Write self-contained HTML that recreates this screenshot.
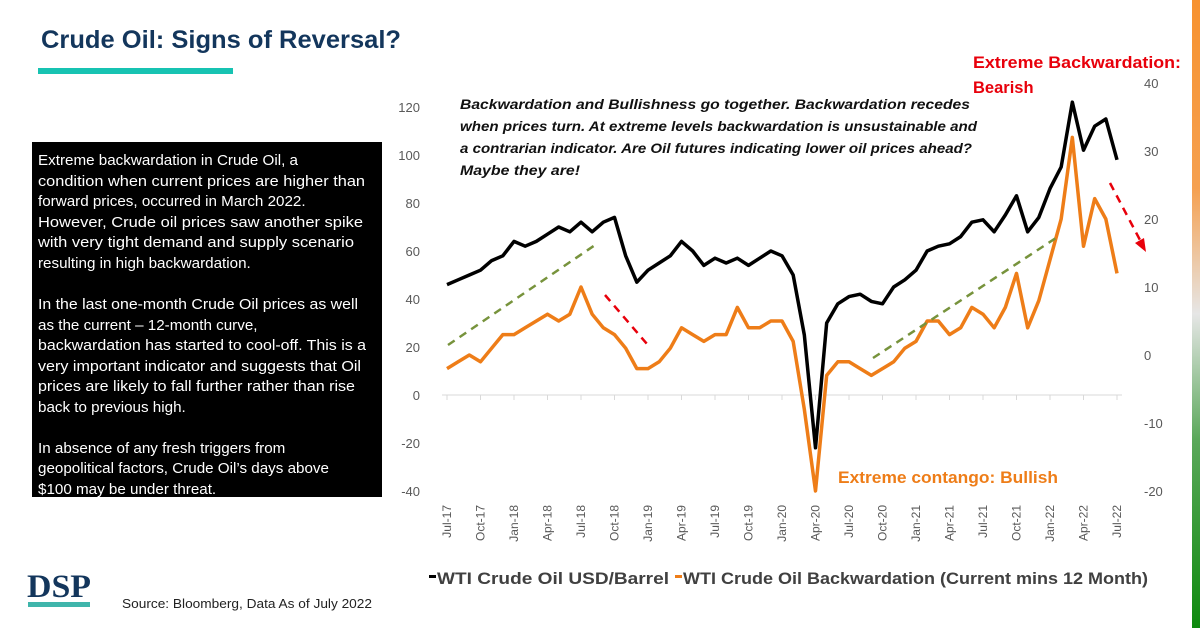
<!DOCTYPE html>
<html><head><meta charset="utf-8"><style>
body{margin:0;background:#fff;}
svg{display:block;font-family:"Liberation Sans",sans-serif;}
</style></head><body>
<svg id="root" width="1200" height="628" viewBox="0 0 1200 628" xmlns="http://www.w3.org/2000/svg">
<defs>
<linearGradient id="flag" x1="0" y1="0" x2="0" y2="1">
<stop offset="0" stop-color="#f7922f"/><stop offset="0.3" stop-color="#f5a050"/><stop offset="0.5" stop-color="#e6e6e6"/><stop offset="0.7" stop-color="#5aa85a"/><stop offset="1" stop-color="#0e8a0e"/>
</linearGradient>
</defs>
<rect x="1192" y="0" width="8" height="628" fill="url(#flag)"/>
<text x="41" y="48" font-size="25" font-weight="bold" fill="#13365c" textLength="360" lengthAdjust="spacingAndGlyphs">Crude Oil: Signs of Reversal?</text>
<rect x="38" y="68" width="195" height="6" fill="#17c3b2"/>

<g>
<rect x="32" y="142" width="350" height="355" fill="#000"/>
<g fill="#fff" font-size="15.2">
<text x="38" y="165">Extreme backwardation in Crude Oil, a</text>
<text x="38" y="186" textLength="327" lengthAdjust="spacingAndGlyphs">condition when current prices are higher than</text>
<text x="38" y="206">forward prices, occurred in March 2022.</text>
<text x="38" y="227" textLength="325" lengthAdjust="spacingAndGlyphs">However, Crude oil prices saw another spike</text>
<text x="38" y="247" textLength="316" lengthAdjust="spacingAndGlyphs">with very tight demand and supply scenario</text>
<text x="38" y="268">resulting in high backwardation.</text>
<text x="38" y="309" textLength="320" lengthAdjust="spacingAndGlyphs">In the last one-month Crude Oil prices as well</text>
<text x="38" y="330">as the current – 12-month curve,</text>
<text x="38" y="350" textLength="328" lengthAdjust="spacingAndGlyphs">backwardation has started to cool-off.  This is a</text>
<text x="38" y="371" textLength="323" lengthAdjust="spacingAndGlyphs">very important indicator and suggests that Oil</text>
<text x="38" y="391" textLength="317" lengthAdjust="spacingAndGlyphs">prices are likely to fall further rather than rise</text>
<text x="38" y="412">back to previous high.</text>
<text x="38" y="453">In absence of any fresh triggers from</text>
<text x="38" y="473">geopolitical factors, Crude Oil’s days above</text>
<text x="38" y="494">$100 may be under threat.</text>
</g></g>

<g id="chart"></g>

<g font-style="italic" font-weight="bold" font-size="14" fill="#111">
<text x="460" y="109" textLength="510" lengthAdjust="spacingAndGlyphs">Backwardation and Bullishness go together. Backwardation recedes</text>
<text x="460" y="131" textLength="517" lengthAdjust="spacingAndGlyphs">when prices turn. At extreme levels backwardation is unsustainable and</text>
<text x="460" y="153" textLength="512" lengthAdjust="spacingAndGlyphs">a contrarian indicator. Are Oil futures indicating lower oil prices ahead?</text>
<text x="460" y="175" textLength="120" lengthAdjust="spacingAndGlyphs">Maybe they are!</text>
</g>
<g font-weight="bold" font-size="16.5" fill="#e8000b">
<text x="973" y="68" textLength="208" lengthAdjust="spacingAndGlyphs">Extreme Backwardation:</text>
<text x="973" y="93">Bearish</text>
</g>
<text x="838" y="483" font-weight="bold" font-size="17" fill="#ee7d18" textLength="220" lengthAdjust="spacingAndGlyphs">Extreme contango: Bullish</text>

<g stroke-dasharray="8,6" stroke-width="2.5" fill="none">
<line x1="448" y1="345" x2="598" y2="243" stroke="#77933c"/>
<line x1="873" y1="358" x2="1059" y2="236" stroke="#77933c"/>
<line x1="605" y1="295" x2="647" y2="344" stroke="#e8000b"/>
<line x1="1110" y1="183" x2="1140" y2="240" stroke="#e8000b"/>
</g>
<polygon points="1146,252 1135,243 1144,238" fill="#e8000b"/>

<g>
<rect x="429" y="575" width="7" height="3" fill="#000"/>
<text x="437" y="584" font-size="17" font-weight="bold" fill="#404040" textLength="232" lengthAdjust="spacingAndGlyphs">WTI Crude Oil USD/Barrel</text>
<rect x="675" y="575" width="7" height="3" fill="#ee7d18"/>
<text x="683" y="584" font-size="17" font-weight="bold" fill="#404040" textLength="465" lengthAdjust="spacingAndGlyphs">WTI Crude Oil Backwardation (Current mins 12 Month)</text>
</g>

<g>
<text x="27" y="597" font-family="'Liberation Serif',serif" font-weight="bold" font-size="33" fill="#13365c" textLength="64" lengthAdjust="spacingAndGlyphs">DSP</text>
<rect x="28" y="602" width="62" height="5" fill="#3fb5ab"/>
</g>
<text x="122" y="608" font-size="13" fill="#222" textLength="250" lengthAdjust="spacingAndGlyphs">Source: Bloomberg, Data As of July 2022</text>
</svg>
<script>
const months = ["Jul-17","Aug-17","Sep-17","Oct-17","Nov-17","Dec-17","Jan-18","Feb-18","Mar-18","Apr-18","May-18","Jun-18","Jul-18","Aug-18","Sep-18","Oct-18","Nov-18","Dec-18","Jan-19","Feb-19","Mar-19","Apr-19","May-19","Jun-19","Jul-19","Aug-19","Sep-19","Oct-19","Nov-19","Dec-19","Jan-20","Feb-20","Mar-20","Apr-20","May-20","Jun-20","Jul-20","Aug-20","Sep-20","Oct-20","Nov-20","Dec-20","Jan-21","Feb-21","Mar-21","Apr-21","May-21","Jun-21","Jul-21","Aug-21","Sep-21","Oct-21","Nov-21","Dec-21","Jan-22","Feb-22","Mar-22","Apr-22","May-22","Jun-22","Jul-22"];
const wtiPrice = [46,48,50,52,56,58,64,62,64,67,70,68,72,68,72,74,58,47,52,55,58,64,60,54,57,55,57,54,57,60,58,50,25,-22,30,38,41,42,39,38,45,48,52,60,62,63,66,72,73,68,75,83,68,74,86,95,122,102,112,115,98];
const backwardation = [-2,-1,0,-1,1,3,3,4,5,6,5,6,10,6,4,3,1,-2,-2,-1,1,4,3,2,3,3,7,4,4,5,5,2,-8,-20,-3,-1,-1,-2,-3,-2,-1,1,2,5,5,3,4,7,6,4,7,12,4,8,14,20,32,16,23,20,12];
const leftTicks = [120,100,80,60,40,20,0,-20,-40];
const rightTicks = [40,30,20,10,0,-10,-20];
const xTickLabels = ["Jul-17","Oct-17","Jan-18","Apr-18","Jul-18","Oct-18","Jan-19","Apr-19","Jul-19","Oct-19","Jan-20","Apr-20","Jul-20","Oct-20","Jan-21","Apr-21","Jul-21","Oct-21","Jan-22","Apr-22","Jul-22"];

const NS="http://www.w3.org/2000/svg";
const g=document.getElementById('chart');
const x0=447, x1=1117;
const xScale=i=>x0+(x1-x0)*i/(months.length-1);
const yL=v=>395-(v*2.4);
const yR=v=>355-(v*6.8);
function mk(tag,attrs){const e=document.createElementNS(NS,tag);for(const k in attrs)e.setAttribute(k,attrs[k]);g.appendChild(e);return e;}

const ax=mk('line',{x1:442,y1:395,x2:1122,y2:395,stroke:'#d9d9d9','stroke-width':1});



leftTicks.forEach(v=>{
  const t=mk('text',{x:420,y:yL(v)+5,'text-anchor':'end','font-size':13,fill:'#595959'});
  t.textContent=v;
  
  
});
rightTicks.forEach(v=>{
  const t=mk('text',{x:1144,y:yR(v)+5,'font-size':13,fill:'#595959'});
  t.textContent=v;
  
  
});
xTickLabels.forEach(lbl=>{
  const i=months.indexOf(lbl);
  const x=xScale(i);
  const tk=mk('line',{x1:x,y1:395,x2:x,y2:400,stroke:'#d9d9d9'});
  
  
  const t=mk('text',{x:0,y:0,'text-anchor':'end','font-size':12,fill:'#595959',transform:`translate(${x+4},505) rotate(-90)`});
  t.textContent=lbl;
  
  
});

const bw=mk('polyline',{points:backwardation.map((v,i)=>xScale(i)+','+yR(v)).join(' '),fill:'none',stroke:'#ee7d18','stroke-width':3.5,'stroke-linejoin':'round'});


const wl=mk('polyline',{points:wtiPrice.map((v,i)=>xScale(i)+','+yL(v)).join(' '),fill:'none',stroke:'#000','stroke-width':3.5,'stroke-linejoin':'round'});


</script>
</body></html>
